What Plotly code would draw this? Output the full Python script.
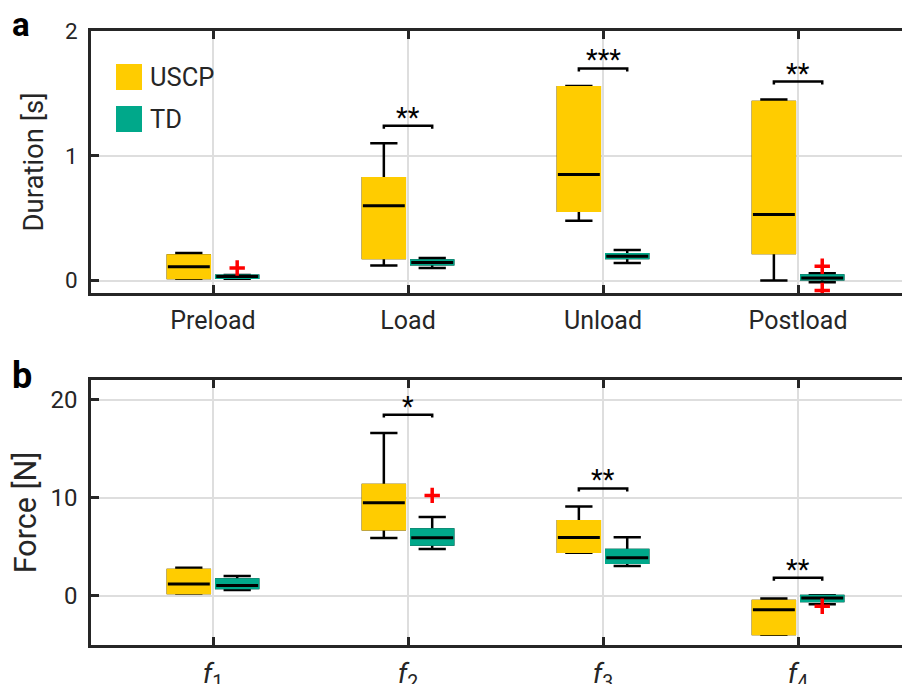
import plotly.graph_objects as go

# ---------------- data ----------------
cats_a = ["Preload", "Load", "Unload", "Postload"]
uscp_a_lo = [0.015, 0.12, 0.48, 0.0]
uscp_a_q1 = [0.02, 0.18, 0.56, 0.22]
uscp_a_med = [0.11, 0.60, 0.85, 0.53]
uscp_a_q3 = [0.20, 0.82, 1.55, 1.43]
uscp_a_hi = [0.22, 1.10, 1.56, 1.45]
td_a_lo = [0.015, 0.10, 0.14, -0.013]
td_a_q1 = [0.022, 0.13, 0.18, 0.01]
td_a_med = [0.032, 0.145, 0.195, 0.02]
td_a_q3 = [0.038, 0.16, 0.21, 0.04]
td_a_hi = [0.045, 0.18, 0.245, 0.058]
td_a_out_cat = [1, 4, 4]
td_a_out_val = [0.10, 0.115, -0.08]
sig_a_cat = [2, 3, 4]
sig_a_txt = ["**", "***", "**"]
sig_a_y = [1.24, 1.70, 1.595]

cats_b = ["<i>f</i><sub>1</sub>", "<i>f</i><sub>2</sub>", "<i>f</i><sub>3</sub>", "<i>f</i><sub>4</sub>"]
uscp_b_lo = [0.25, 5.9, 4.4, -3.95]
uscp_b_q1 = [0.3, 6.8, 4.5, -3.88]
uscp_b_med = [1.22, 9.5, 5.95, -1.40]
uscp_b_q3 = [2.65, 11.3, 7.6, -0.51]
uscp_b_hi = [2.86, 16.6, 9.1, -0.27]
td_b_lo = [0.61, 4.77, 3.06, -0.85]
td_b_q1 = [0.82, 5.24, 3.37, -0.51]
td_b_med = [1.05, 5.92, 3.88, -0.2]
td_b_q3 = [1.67, 6.77, 4.69, 0.0]
td_b_hi = [2.04, 8.03, 5.99, 0.07]
td_b_out_cat = [2, 4]
td_b_out_val = [10.24, -1.05]
sig_b_cat = [2, 3, 4]
sig_b_txt = ["*", "**", "**"]
sig_b_y = [18.47, 10.95, 1.84]

groups = ["USCP", "TD"]

# ---------------- style ----------------
YEL = "#FFCC00"
TEAL = "#00A88A"
AX = "#262626"
GRID = "#dedede"
OFF = 0.124
BW = 0.215
FONT = "Roboto"

fig = go.Figure()


def add_group(xa, ya, pos, lo, q1, med, q3, hi, color):
    # whiskers + caps
    fig.add_trace(go.Box(x=pos, q1=q1, median=med, q3=q3, lowerfence=lo, upperfence=hi,
                         width=BW, whiskerwidth=0.65, fillcolor=color,
                         line=dict(color="black", width=2.5), boxpoints=False,
                         xaxis=xa, yaxis=ya, showlegend=False, hoverinfo="skip"))
    # body (covers the black outline)
    fig.add_trace(go.Box(x=pos, q1=q1, median=med, q3=q3, lowerfence=q1, upperfence=q3,
                         width=BW, whiskerwidth=0, fillcolor=color,
                         line=dict(color=color, width=2.5), boxpoints=False,
                         xaxis=xa, yaxis=ya, showlegend=False, hoverinfo="skip"))
    # median line
    fig.add_trace(go.Box(x=pos, q1=med, median=med, q3=med, lowerfence=med, upperfence=med,
                         width=BW, whiskerwidth=0, fillcolor="black",
                         line=dict(color="black", width=3), boxpoints=False,
                         xaxis=xa, yaxis=ya, showlegend=False, hoverinfo="skip"))


def add_panel(xa, ya, n, ul, uq1, um, uq3, uh, tl, tq1, tm, tq3, th, ocat, oval,
              scat, stxt, sy, tick_h, font_sz):
    pos_u = [i + 1 - OFF for i in range(n)]
    pos_t = [i + 1 + OFF for i in range(n)]
    add_group(xa, ya, pos_u, ul, uq1, um, uq3, uh, YEL)
    add_group(xa, ya, pos_t, tl, tq1, tm, tq3, th, TEAL)
    fig.add_trace(go.Scatter(x=[c + OFF for c in ocat], y=oval, mode="markers",
                             marker=dict(symbol="cross-thin", size=11, color="red",
                                         line=dict(color="red", width=3.5)),
                             xaxis=xa, yaxis=ya, showlegend=False, hoverinfo="skip"))
    for c, t, yv in zip(scat, stxt, sy):
        fig.add_trace(go.Scatter(x=[c - OFF, c - OFF, c + OFF, c + OFF],
                                 y=[yv - tick_h, yv, yv, yv - tick_h], mode="lines",
                                 line=dict(color="black", width=2.5),
                                 xaxis=xa, yaxis=ya, showlegend=False, hoverinfo="skip"))
        fig.add_annotation(x=c, y=yv, xref=xa, yref=ya, text=t, showarrow=False,
                           yanchor="bottom", yshift=-10,
                           font=dict(family=FONT, size=font_sz, color="black"))


add_panel("x", "y", 4, uscp_a_lo, uscp_a_q1, uscp_a_med, uscp_a_q3, uscp_a_hi,
          td_a_lo, td_a_q1, td_a_med, td_a_q3, td_a_hi, td_a_out_cat, td_a_out_val,
          sig_a_cat, sig_a_txt, sig_a_y, 0.024, 27)
add_panel("x2", "y2", 4, uscp_b_lo, uscp_b_q1, uscp_b_med, uscp_b_q3, uscp_b_hi,
          td_b_lo, td_b_q1, td_b_med, td_b_q3, td_b_hi, td_b_out_cat, td_b_out_val,
          sig_b_cat, sig_b_txt, sig_b_y, 0.3, 27)

# page body has an 8px margin; figure coordinates below are page px - 8
W, H = 902, 676
xr = [0.3744, 4.574]
common_x = dict(range=xr, tickvals=[1, 2, 3, 4], ticks="inside", ticklen=8, tickwidth=2.5,
                tickcolor=AX, showline=True, linecolor=AX, linewidth=2.5, mirror="ticks",
                showgrid=True, gridcolor=GRID, gridwidth=2, zeroline=False,
                automargin=False)
common_y = dict(ticks="inside", ticklen=8, tickwidth=2.5, tickcolor=AX, showline=True,
                linecolor=AX, linewidth=2.5, mirror=False, showgrid=True,
                gridcolor=GRID, gridwidth=2, zeroline=False, automargin=False)

fig.update_layout(
    width=W, height=H, margin=dict(l=0, r=0, t=0, b=0),
    paper_bgcolor="white", plot_bgcolor="white", showlegend=False,
    boxmode="overlay",
    font=dict(family=FONT, color=AX),
    xaxis=dict(domain=[83 / W, 1], anchor="y", ticktext=cats_a,
               tickfont=dict(size=25, family=FONT, color=AX), ticklabelstandoff=3,
               **common_x),
    yaxis=dict(domain=[1 - 285 / H, 1 - 23 / H], anchor="x", range=[-0.1, 2],
               tickvals=[0, 1, 2], tickfont=dict(size=22.5, family=FONT, color=AX),
               ticklabelstandoff=6,
               title=dict(text="Duration [s]", font=dict(size=27.5, family=FONT, color=AX),
                          standoff=14),
               **common_y),
    xaxis2=dict(domain=[83 / W, 1], anchor="y2", ticktext=cats_b,
                tickfont=dict(size=28, family=FONT, color=AX), ticklabelstandoff=2,
                **common_x),
    yaxis2=dict(domain=[1 - 637 / H, 1 - 372 / H], anchor="x2", range=[-5, 22],
                tickvals=[0, 10, 20], tickfont=dict(size=24, family=FONT, color=AX),
                ticklabelstandoff=6,
                title=dict(text="Force [N]", font=dict(size=30.5, family=FONT, color=AX),
                           standoff=6),
                **common_y),
)

# panel labels
fig.add_annotation(text="<b>a</b>", xref="paper", yref="paper", x=2 / W, y=1 + 5 / H,
                   xanchor="left", yanchor="top", showarrow=False,
                   font=dict(family=FONT, size=33, color="black"))
fig.add_annotation(text="<b>b</b>", xref="paper", yref="paper", x=2 / W, y=1 - 345 / H,
                   xanchor="left", yanchor="top", showarrow=False,
                   font=dict(family=FONT, size=36, color="black"))

# legend (manual)
leg_colors = [YEL, TEAL]
leg_top = [56, 98]
for g, c, t in zip(groups, leg_colors, leg_top):
    fig.add_shape(type="rect", xref="paper", yref="paper", x0=108 / W, x1=134 / W,
                  y0=1 - (t + 26) / H, y1=1 - t / H, fillcolor=c, line=dict(width=0))
    fig.add_annotation(text=g, xref="paper", yref="paper", x=140 / W, y=1 - (t + 13) / H,
                       xanchor="left", yanchor="middle", showarrow=False,
                       font=dict(family=FONT, size=25.5, color=AX))

fig.write_html("out.html")
